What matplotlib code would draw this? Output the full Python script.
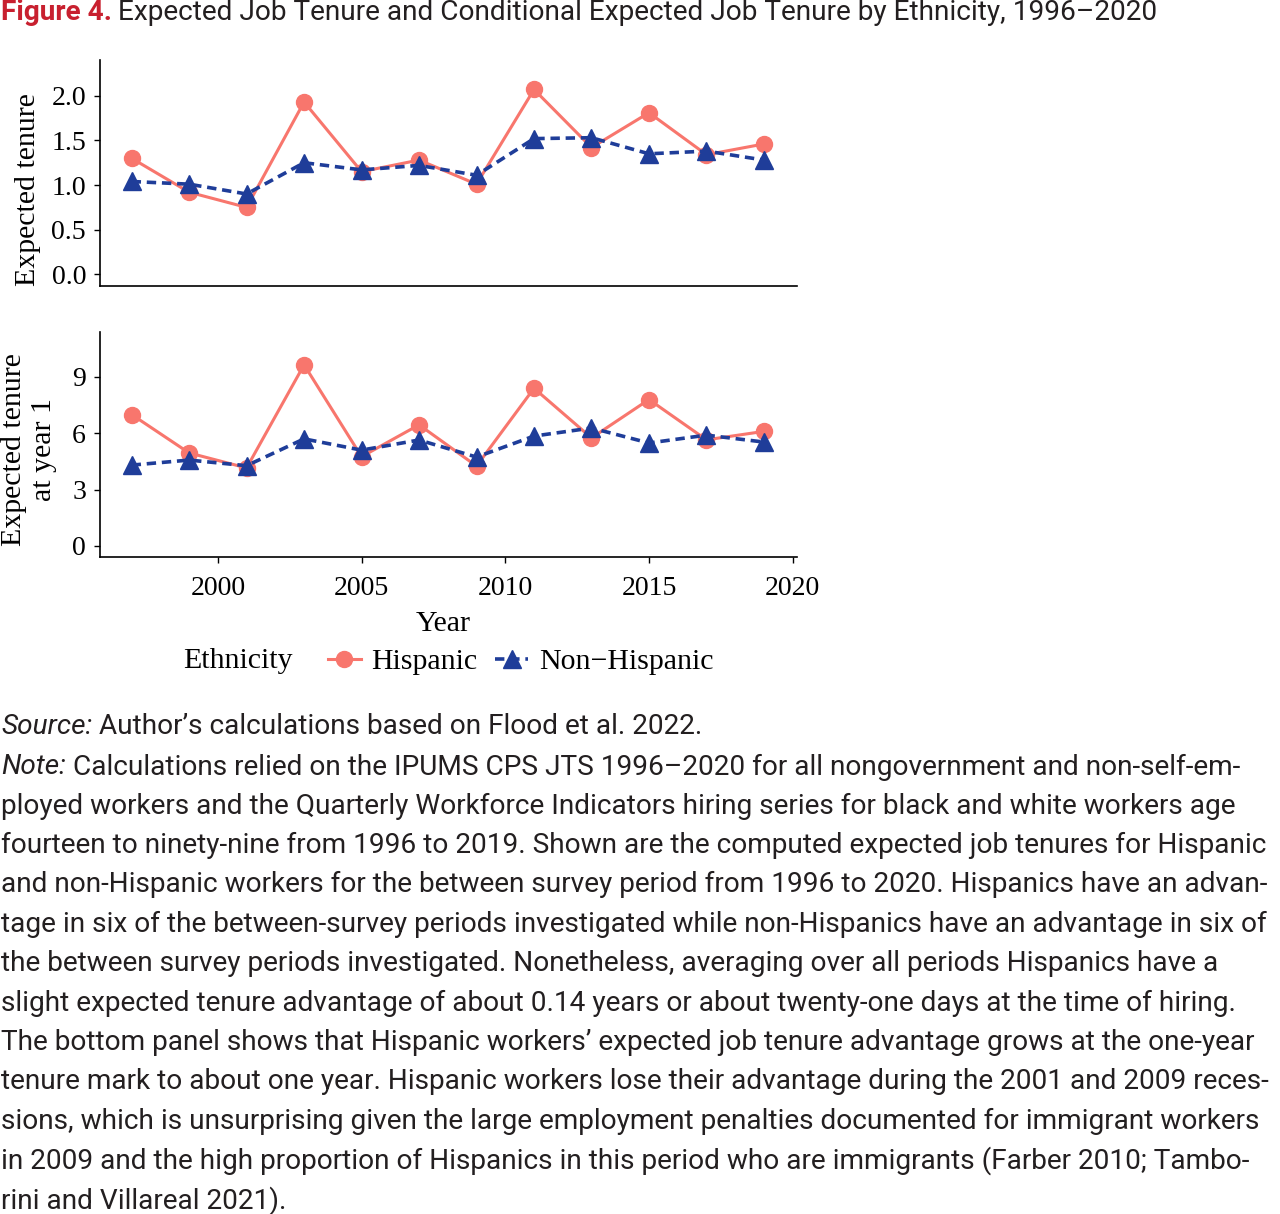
import numpy as np
import matplotlib
matplotlib.use("Agg")
import matplotlib.pyplot as plt
from matplotlib.lines import Line2D

years = [1997, 1999, 2001, 2003, 2005, 2007, 2009, 2011, 2013, 2015, 2017, 2019]
hisp_tenure = [1.30, 0.92, 0.75, 1.93, 1.15, 1.28, 1.01, 2.07, 1.42, 1.81, 1.34, 1.46]
nonhisp_tenure = [1.04, 1.01, 0.90, 1.25, 1.17, 1.22, 1.11, 1.52, 1.53, 1.35, 1.38, 1.28]
hisp_year1 = [7.0, 4.95, 4.15, 9.65, 4.75, 6.45, 4.25, 8.4, 5.75, 7.8, 5.65, 6.1]
nonhisp_year1 = [4.3, 4.57, 4.27, 5.7, 5.1, 5.64, 4.73, 5.85, 6.28, 5.48, 5.9, 5.53]

x_ticks = [2000, 2005, 2010, 2015, 2020]
top_yticks = [0.0, 0.5, 1.0, 1.5, 2.0]
bot_yticks = [0, 3, 6, 9]

title_lead = "Figure 4."
title_rest = "Expected Job Tenure and Conditional Expected Job Tenure by Ethnicity, 1996\u20132020"
source_lead = "Source:"
source_rest = "Author\u2019s calculations based on Flood et al. 2022."
note_lead = "Note:"
note_lines = [
    "Calculations relied on the IPUMS CPS JTS 1996\u20132020 for all nongovernment and non-self-em-",
    "ployed workers and the Quarterly Workforce Indicators hiring series for black and white workers age",
    "fourteen to ninety-nine from 1996 to 2019. Shown are the computed expected job tenures for Hispanic",
    "and non-Hispanic workers for the between survey period from 1996 to 2020. Hispanics have an advan-",
    "tage in six of the between-survey periods investigated while non-Hispanics have an advantage in six of",
    "the between survey periods investigated. Nonetheless, averaging over all periods Hispanics have a",
    "slight expected tenure advantage of about 0.14 years or about twenty-one days at the time of hiring.",
    "The bottom panel shows that Hispanic workers\u2019 expected job tenure advantage grows at the one-year",
    "tenure mark to about one year. Hispanic workers lose their advantage during the 2001 and 2009 reces-",
    "sions, which is unsurprising given the large employment penalties documented for immigrant workers",
    "in 2009 and the high proportion of Hispanics in this period who are immigrants (Farber 2010; Tambo-",
    "rini and Villareal 2021).",
]

HISP = "#f8766d"
NONH = "#1f3d99"
RED = "#c8202f"
INK = "#231f20"
W, H = 1280, 1214
serif = "Liberation Serif"
sans = "Roboto"
TICK = 20
LAB = 21.5

fig = plt.figure(figsize=(W / 100, H / 100), dpi=100)
fig.patch.set_facecolor("white")

ax1 = fig.add_axes([100 / W, 1 - 286 / H, 697 / W, 226 / H])
ax2 = fig.add_axes([100 / W, 1 - 557 / H, 697 / W, 225 / H])


def draw(ax, yh, yn):
    ax.plot(years, yh, color=HISP, lw=2.2, marker="o", ms=11.5, zorder=2)
    ax.plot(years, yn, color=NONH, lw=2.6, ls=(0, (2.6, 1.6)), marker="^",
            ms=13, zorder=3)
    for s in ["top", "right"]:
        ax.spines[s].set_visible(False)
    for s in ["left", "bottom"]:
        ax.spines[s].set_linewidth(1.2)
    ax.set_xlim(1995.9, 2020.15)
    ax.tick_params(length=4, width=1, pad=6)


draw(ax1, hisp_tenure, nonhisp_tenure)
ax1.set_ylim(-0.13, 2.4)
ax1.set_yticks(top_yticks)
ax1.set_yticklabels([f"{v:.1f}" for v in top_yticks], fontfamily=serif, fontsize=TICK)
ax1.set_xticks([])

draw(ax2, hisp_year1, nonhisp_year1)
ax2.set_ylim(-0.6, 11.4)
ax2.set_yticks(bot_yticks)
ax2.set_yticklabels([str(v) for v in bot_yticks], fontfamily=serif, fontsize=TICK)
ax2.set_xticks(x_ticks)
ax2.set_xticklabels([str(v) for v in x_ticks], fontfamily=serif, fontsize=TICK)
ax2.tick_params(axis="x", pad=10)

# axis titles
fig.text(28 / W, 1 - 190 / H, "Expected tenure", rotation=90, ha="center",
         va="center", fontfamily=serif, fontsize=LAB)
fig.text(29 / W, 1 - 450 / H, "Expected tenure\nat year 1", rotation=90,
         ha="center", va="center", fontfamily=serif, fontsize=LAB,
         linespacing=1.2, multialignment="center")
fig.text(443 / W, 1 - 624 / H, "Year", ha="center", va="center",
         fontfamily=serif, fontsize=LAB)

# legend
fig.text(183 / W, 1 - 661 / H, "Ethnicity", fontfamily=serif, fontsize=LAB,
         va="center", ha="left")
handles = [
    Line2D([], [], color=HISP, lw=2.2, marker="o", ms=11.5),
    Line2D([], [], color=NONH, lw=2.6, ls=(0, (2.6, 1.6)), marker="^", ms=13),
]
fig.legend(handles, ["Hispanic", "Non\u2212Hispanic"], ncol=2, frameon=False,
           loc="center left", bbox_to_anchor=(328 / W, 1 - 662 / H),
           prop={"family": serif, "size": LAB}, handlelength=1.1,
           handletextpad=0.35, columnspacing=0.6, borderaxespad=0,
           borderpad=0)

# title and caption text
renderer = fig.canvas.get_renderer()


def lead_and_rest(y, lead, rest, size, lead_kw, gap):
    t = fig.text(1 / W, y, lead, fontfamily=sans, fontsize=size, va="center",
                 ha="left", **lead_kw)
    bb = t.get_window_extent(renderer)
    fig.text((bb.x1 + gap) / W, y, rest, fontfamily=sans, fontsize=size,
             va="center", ha="left", color=INK)


# fit caption font size to the widest line
probe = fig.text(0, 0, note_lines[4], fontfamily=sans, fontsize=10)
wid = probe.get_window_extent(renderer).width
probe.remove()
cap_size = 10 * 1273 / wid

lead_and_rest(1 - 12 / H, title_lead, title_rest, cap_size,
              dict(color=RED, fontweight="bold"), 6)
lead_and_rest(1 - 727 / H, source_lead, source_rest, cap_size,
              dict(style="italic", color=INK), 7)
lead_and_rest(1 - 767 / H, note_lead, note_lines[0], cap_size,
              dict(style="italic", color=INK), 7)
for i, line in enumerate(note_lines[1:]):
    fig.text(1 / W, 1 - (806 + 39.42 * i) / H, line, fontfamily=sans,
             fontsize=cap_size, va="center", ha="left", color=INK)

fig.savefig("out.png", dpi=100)
